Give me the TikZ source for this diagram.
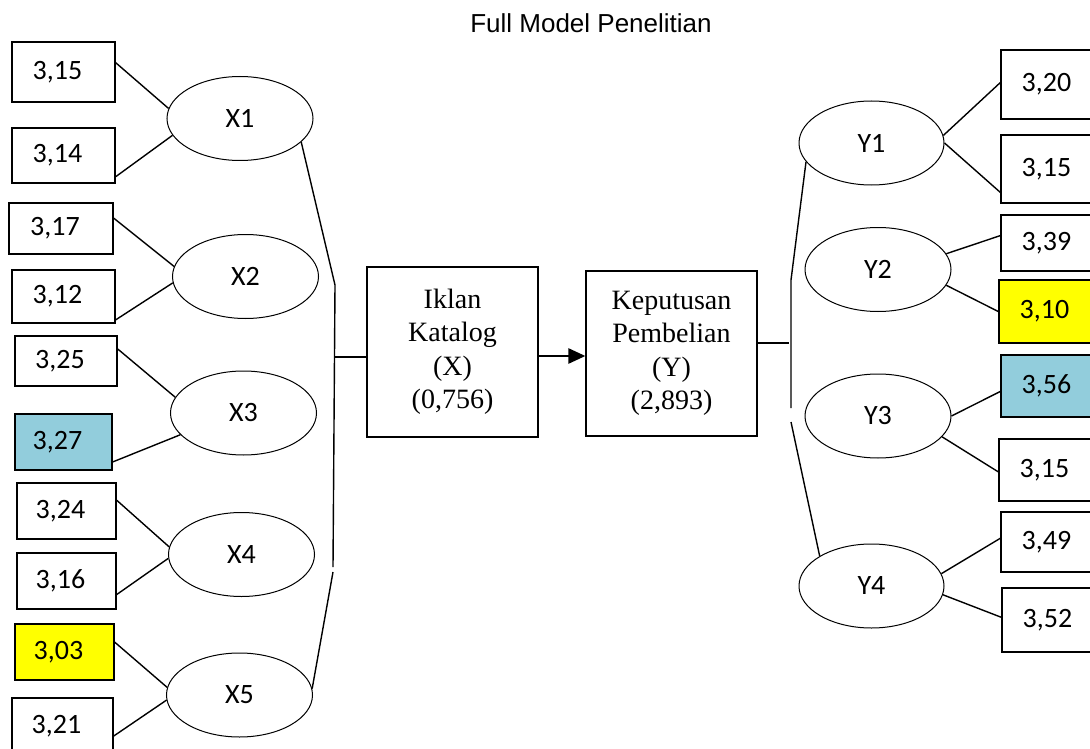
\documentclass[tikz,border=0pt]{standalone}
\usepackage{fontspec}
\setmainfont{Liberation Serif}
\newfontfamily\calib{Carlito}
\newfontfamily\arialf{Liberation Sans}
\usetikzlibrary{shapes.geometric,arrows.meta}
\definecolor{hlyellow}{RGB}{255,255,0}
\definecolor{hlblue}{RGB}{146,205,220}
\begin{document}
\begin{tikzpicture}[x=1pt,y=-1pt,
  ind/.style={draw, line width=1.6pt, rectangle, inner sep=0pt, minimum width=103pt,
    font=\calib\fontsize{28}{32}\selectfont, execute at end node={\hspace*{12pt}}},
  lat/.style={draw, line width=1pt, ellipse, inner sep=0pt, minimum width=146pt,
    minimum height=84pt, font=\calib\fontsize{28}{32}\selectfont},
  mainbox/.style={draw, line width=1.2pt, rectangle, inner sep=0pt, minimum width=171pt,
    align=center, font=\fontsize{28}{33.5}\selectfont},
  con/.style={line width=1.4pt},
]
\useasboundingbox (0,0) rectangle (1090,749);
\clip (0,0) rectangle (1090,749);

% title
\node[font=\arialf\fontsize{26}{30}\selectfont] (title) at (591,23) {Full Model Penelitian};

% left indicator boxes
\node[ind, minimum height=60pt] (b1) at (63.5,72) {3,15};
\node[ind, minimum height=55pt] (b2) at (63.5,155.5) {3,14};
\node[ind, minimum height=51pt, minimum width=104pt] (b3) at (61,228.5) {3,17};
\node[ind, minimum height=53pt] (b4) at (63.5,296.5) {3,12};
\node[ind, minimum height=50pt, minimum width=102pt] (b5) at (66,361) {3,25};
\node[ind, minimum height=56pt, minimum width=97pt, fill=hlblue] (b6) at (63.5,442) {3,27};
\node[ind, minimum height=56pt, minimum width=99pt] (b7) at (66.5,511) {3,24};
\node[ind, minimum height=56pt, minimum width=99pt] (b8) at (66.5,581) {3,16};
\node[ind, minimum height=56pt, minimum width=99pt, fill=hlyellow] (b9) at (64.5,652) {3,03};
\node[ind, minimum height=56pt, minimum width=101pt] (b10) at (62.5,726) {3,21};

% left latent ellipses
\node[lat] (X1) at (240,118.5) {X1};
\node[lat] (X2) at (245.5,276.5) {X2};
\node[lat] (X3) at (243.5,413) {X3};
\node[lat] (X4) at (241.5,554.5) {X4};
\node[lat] (X5) at (239.5,695) {X5};

% left connectors
\draw[con] (b1.10) -- (X1.172);
\draw[con] (b2.-22) -- (X1.194);
\draw[con] (b3.11) -- (X2.172.5);
\draw[con] (b4.-24.5) -- (X2.185);
\draw[con] (b5.13) -- (X3.167);
\draw[con] (b6.-22.4) -- (X3.199);
\draw[con] (b7.12.5) -- (X4.174);
\draw[con] (b8.-15.8) -- (X4.183.6);
\draw[con] (b9.11.4) -- (X5.174.4);
\draw[con] (b10.-11) -- (X5.184.8);

% main constructs
\node[mainbox, minimum height=170pt] (iklan) at (452.5,352) {Iklan\\Katalog\\(X)\\(0,756)};
\node[mainbox, minimum height=165pt] (kep) at (671.5,353.5) {Keputusan\\Pembelian\\(Y)\\(2,893)};

% left collector
\coordinate (lt) at (335,285);
\coordinate (lb) at (333,567);
\coordinate (lb2) at (333,572);
\coordinate (lm) at (335,357);
\draw[con] (X1.-21.6) -- (lt) -- (lb);
\draw[con] (lb2) -- (X5.5.4);
\draw[con] (lm) -- (lm -| iklan.west);

% arrow X -> Y
\coordinate (am) at (538,356);
\draw[line width=2.6pt, -{Triangle[length=17pt,width=15pt]}] (am -| iklan.east) -- (am -| kep.west);

% right latent ellipses
\node[lat, minimum width=145pt] (Y1) at (871.5,143) {Y1};
\node[lat] (Y2) at (878,269.5) {Y2};
\node[lat] (Y3) at (878,416) {Y3};
\node[lat, minimum width=145pt] (Y4) at (871.5,586) {Y4};

% right collector
\coordinate (rm) at (789,343);
\coordinate (rt) at (791,280);
\coordinate (rb) at (791,408);
\coordinate (rb2) at (791,422);
\draw[con] (rm -| kep.east) -- (rm);
\draw[con] (Y1.196) -- (rt) -- (rb);
\draw[con] (rb2) -- (Y4.150.6);

% right indicator boxes
\node[ind, minimum height=69pt] (r1) at (1052.5,84.5) {3,20};
\node[ind, minimum height=68pt] (r2) at (1052.5,169) {3,15};
\node[ind, minimum height=56pt] (r3) at (1052.5,243) {3,39};
\node[ind, minimum height=63pt, fill=hlyellow] (r4) at (1050.5,311.5) {3,10};
\node[ind, minimum height=62pt, fill=hlblue] (r5) at (1052.5,386) {3,56};
\node[ind, minimum height=62pt] (r6) at (1050.5,470) {3,15};
\node[ind, minimum height=60pt] (r7) at (1052.5,542) {3,49};
\node[ind, minimum height=64pt] (r8) at (1053.5,620) {3,52};

% right connectors
\draw[con] (Y1.6.2) -- (r1.178);
\draw[con] (Y1.-0.8) -- (r2.204);
\draw[con] (Y2.13.3) -- (r3.172);
\draw[con] (Y2.-13.8) -- (r4.180.5);
\draw[con] (Y3.-0.8) -- (r5.186.6);
\draw[con] (Y3.-18.2) -- (r6.182);
\draw[con] (Y4.10.9) -- (r7.176.7);
\draw[con] (Y4.-7.2) -- (r8.177.8);
\end{tikzpicture}
\end{document}
